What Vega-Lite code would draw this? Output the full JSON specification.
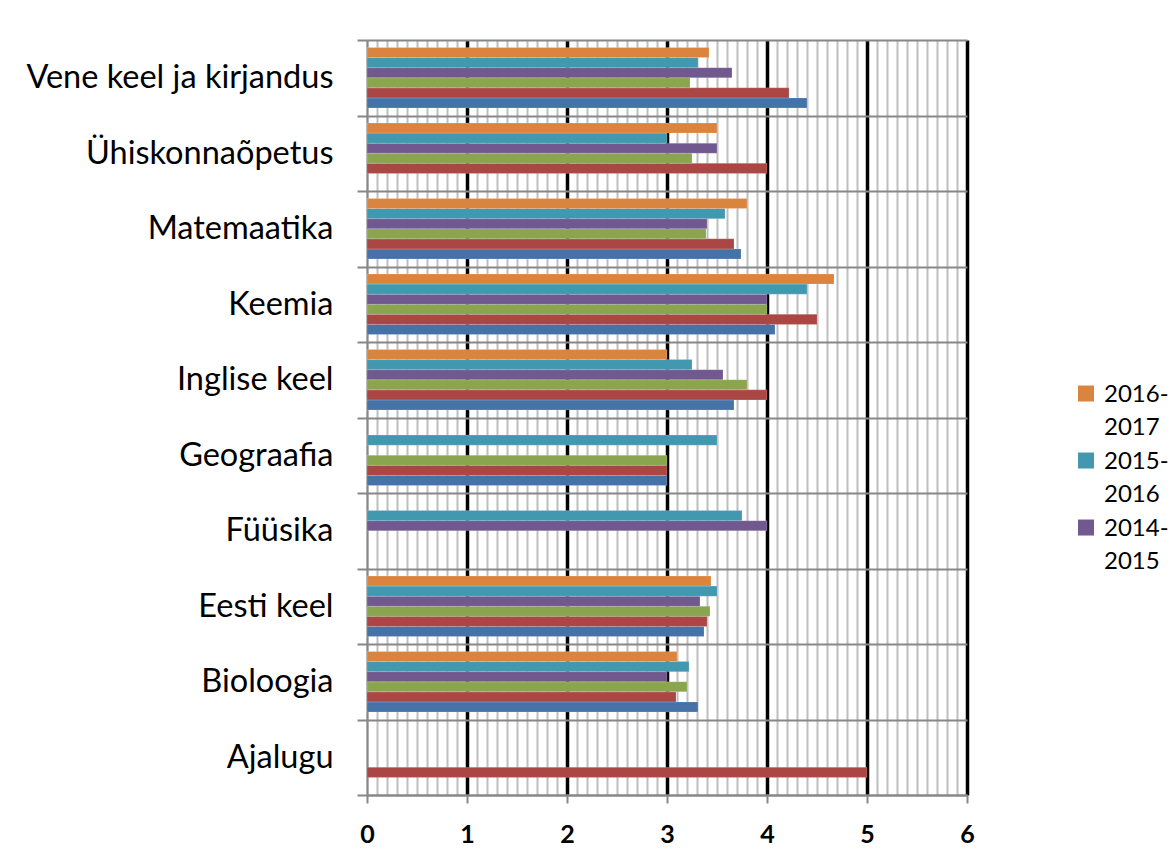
{
  "$schema": "https://vega.github.io/schema/vega-lite/v6.json",
  "autosize": {"type": "none"},
  "padding": {"left": 367, "top": 40, "right": 207, "bottom": 66},
  "width": 600,
  "height": 755,
  "background": "white",
  "config": {
    "view": {"stroke": null},
    "font": "Lato",
    "style": {"guide-label": {"lineHeight": 33}}
  },
  "data": {
    "values": [
      {"subject": "Vene keel ja kirjandus", "year": "2011-2012", "value": 4.40},
      {"subject": "Vene keel ja kirjandus", "year": "2012-2013", "value": 4.22},
      {"subject": "Vene keel ja kirjandus", "year": "2013-2014", "value": 3.23},
      {"subject": "Vene keel ja kirjandus", "year": "2014-2015", "value": 3.65},
      {"subject": "Vene keel ja kirjandus", "year": "2015-2016", "value": 3.31},
      {"subject": "Vene keel ja kirjandus", "year": "2016-2017", "value": 3.42},
      {"subject": "Ühiskonnaõpetus", "year": "2012-2013", "value": 4.00},
      {"subject": "Ühiskonnaõpetus", "year": "2013-2014", "value": 3.25},
      {"subject": "Ühiskonnaõpetus", "year": "2014-2015", "value": 3.50},
      {"subject": "Ühiskonnaõpetus", "year": "2015-2016", "value": 3.00},
      {"subject": "Ühiskonnaõpetus", "year": "2016-2017", "value": 3.50},
      {"subject": "Matemaatika", "year": "2011-2012", "value": 3.74},
      {"subject": "Matemaatika", "year": "2012-2013", "value": 3.67},
      {"subject": "Matemaatika", "year": "2013-2014", "value": 3.39},
      {"subject": "Matemaatika", "year": "2014-2015", "value": 3.40},
      {"subject": "Matemaatika", "year": "2015-2016", "value": 3.58},
      {"subject": "Matemaatika", "year": "2016-2017", "value": 3.80},
      {"subject": "Keemia", "year": "2011-2012", "value": 4.08},
      {"subject": "Keemia", "year": "2012-2013", "value": 4.50},
      {"subject": "Keemia", "year": "2013-2014", "value": 4.00},
      {"subject": "Keemia", "year": "2014-2015", "value": 4.00},
      {"subject": "Keemia", "year": "2015-2016", "value": 4.40},
      {"subject": "Keemia", "year": "2016-2017", "value": 4.67},
      {"subject": "Inglise keel", "year": "2011-2012", "value": 3.67},
      {"subject": "Inglise keel", "year": "2012-2013", "value": 4.00},
      {"subject": "Inglise keel", "year": "2013-2014", "value": 3.80},
      {"subject": "Inglise keel", "year": "2014-2015", "value": 3.56},
      {"subject": "Inglise keel", "year": "2015-2016", "value": 3.25},
      {"subject": "Inglise keel", "year": "2016-2017", "value": 3.00},
      {"subject": "Geograafia", "year": "2011-2012", "value": 3.00},
      {"subject": "Geograafia", "year": "2012-2013", "value": 3.00},
      {"subject": "Geograafia", "year": "2013-2014", "value": 3.00},
      {"subject": "Geograafia", "year": "2015-2016", "value": 3.50},
      {"subject": "Füüsika", "year": "2014-2015", "value": 4.00},
      {"subject": "Füüsika", "year": "2015-2016", "value": 3.75},
      {"subject": "Eesti keel", "year": "2011-2012", "value": 3.37},
      {"subject": "Eesti keel", "year": "2012-2013", "value": 3.40},
      {"subject": "Eesti keel", "year": "2013-2014", "value": 3.43},
      {"subject": "Eesti keel", "year": "2014-2015", "value": 3.33},
      {"subject": "Eesti keel", "year": "2015-2016", "value": 3.50},
      {"subject": "Eesti keel", "year": "2016-2017", "value": 3.44},
      {"subject": "Bioloogia", "year": "2011-2012", "value": 3.31},
      {"subject": "Bioloogia", "year": "2012-2013", "value": 3.09},
      {"subject": "Bioloogia", "year": "2013-2014", "value": 3.20},
      {"subject": "Bioloogia", "year": "2014-2015", "value": 3.00},
      {"subject": "Bioloogia", "year": "2015-2016", "value": 3.22},
      {"subject": "Bioloogia", "year": "2016-2017", "value": 3.10},
      {"subject": "Ajalugu", "year": "2012-2013", "value": 5.00}
    ]
  },
  "mark": {"type": "bar", "stroke": "white", "strokeOpacity": 0.35, "strokeWidth": 0.5},
  "encoding": {
    "y": {
      "field": "subject",
      "type": "nominal",
      "sort": ["Vene keel ja kirjandus", "Ühiskonnaõpetus", "Matemaatika", "Keemia", "Inglise keel", "Geograafia", "Füüsika", "Eesti keel", "Bioloogia", "Ajalugu"],
      "scale": {"paddingInner": 0, "paddingOuter": 0},
      "axis": {
        "title": null,
        "tickBand": "extent",
        "grid": true,
        "gridColor": "#878787",
        "gridWidth": 2,
        "ticks": true,
        "tickColor": "#878787",
        "tickWidth": 2,
        "tickSize": 10,
        "domainColor": "#878787",
        "domainWidth": 2,
        "labelFont": "Lato",
        "labelFontSize": 32.5,
        "labelColor": "#000000",
        "labelPadding": 24,
        "labelLimit": 400
      }
    },
    "yOffset": {
      "field": "year",
      "type": "nominal",
      "scale": {
        "domain": ["2016-2017", "2015-2016", "2014-2015", "2013-2014", "2012-2013", "2011-2012"],
        "paddingInner": 0,
        "paddingOuter": 0.75
      }
    },
    "x": {
      "field": "value",
      "type": "quantitative",
      "scale": {"domain": [0, 6], "nice": false, "zero": true},
      "axis": {
        "title": null,
        "values": [0, 0.1, 0.2, 0.3, 0.4, 0.5, 0.6, 0.7, 0.8, 0.9, 1, 1.1, 1.2, 1.3, 1.4, 1.5, 1.6, 1.7, 1.8, 1.9, 2, 2.1, 2.2, 2.3, 2.4, 2.5, 2.6, 2.7, 2.8, 2.9, 3, 3.1, 3.2, 3.3, 3.4, 3.5, 3.6, 3.7, 3.8, 3.9, 4, 4.1, 4.2, 4.3, 4.4, 4.5, 4.6, 4.7, 4.8, 4.9, 5, 5.1, 5.2, 5.3, 5.4, 5.5, 5.6, 5.7, 5.8, 5.9, 6],
        "labelExpr": "datum.value % 1 === 0 ? format(datum.value, 'd') : ''",
        "labelOverlap": false,
        "labelFlush": false,
        "grid": true,
        "gridColor": {"condition": {"test": "datum.value % 1 === 0 && datum.value > 0", "value": "#000000"}, "value": "#BEBEBE"},
        "gridWidth": {"condition": {"test": "datum.value % 1 === 0 && datum.value > 0", "value": 3.5}, "value": 2},
        "tickOpacity": {"condition": {"test": "datum.value % 1 === 0", "value": 1}, "value": 0},
        "tickColor": "#878787",
        "tickWidth": 2,
        "tickSize": 8,
        "domainColor": "#878787",
        "domainWidth": 2,
        "labelFont": "Lato",
        "labelFontSize": 25,
        "labelFontWeight": "bold",
        "labelColor": "#000000",
        "labelPadding": 19
      }
    },
    "color": {
      "field": "year",
      "type": "nominal",
      "scale": {
        "domain": ["2011-2012", "2012-2013", "2013-2014", "2014-2015", "2015-2016", "2016-2017"],
        "range": ["#4572A7", "#AA4643", "#89A54E", "#71588F", "#4198AF", "#DB843D"]
      },
      "legend": {
        "title": null,
        "values": ["2016-2017", "2015-2016", "2014-2015"],
        "orient": "none",
        "legendX": 707,
        "legendY": 350,
        "symbolType": "M-1,-2.06H1V-0.06H-1Z",
        "symbolSize": 256,
        "symbolStrokeWidth": 0,
        "labelFont": "Lato",
        "labelFontSize": 24,
        "labelColor": "#000000",
        "labelExpr": "[slice(datum.label, 0, 5), slice(datum.label, 5)]",
        "labelBaseline": "alphabetic",
        "labelOffset": 6,
        "rowPadding": 10
      }
    }
  }
}
